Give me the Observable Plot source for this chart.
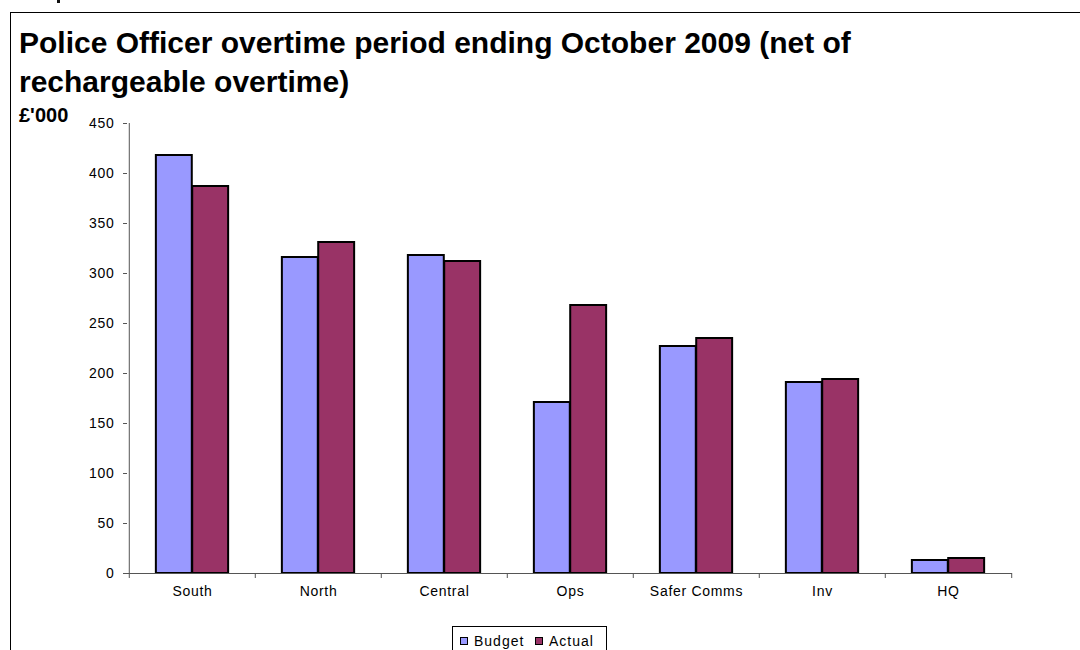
<!DOCTYPE html>
<html>
<head>
<meta charset="utf-8">
<script src="https://cdn.jsdelivr.net/npm/d3@7"></script>
<script src="https://cdn.jsdelivr.net/npm/@observablehq/plot@0.6"></script>
<style>
  html, body { margin: 0; padding: 0; background: #fff; overflow: hidden; }
  #wrap { position: relative; width: 1080px; height: 650px; font-family: "Liberation Sans", Arial, sans-serif; }
  #wrap svg { position: absolute; left: 0; top: 0; }
  #wrap svg text { letter-spacing: 0.7px; }
  .frame { position: absolute; left: 10px; top: 12px; width: 1200px; height: 800px; border-top: 1px solid #000; border-left: 1px solid #000; box-sizing: border-box; }
  .speck { position: absolute; left: 57px; top: 0; width: 3px; height: 3px; background: #111; }
  .title { position: absolute; left: 19px; top: 23.4px; font-weight: bold; font-size: 30px; line-height: 39px; color: #000; white-space: nowrap; }
  .unit { position: absolute; left: 19px; top: 104.8px; font-weight: bold; font-size: 20px; line-height: 20px; color: #000; }
  .legend { position: absolute; left: 452px; top: 626px; width: 155px; height: 30px; border: 1px solid #000; box-sizing: border-box; font-size: 14px; }
  .legend .item { position: absolute; top: 6px; display: flex; align-items: center; gap: 6px; line-height: 16px; letter-spacing: 1px; }
  .legend .sw { width: 6px; height: 6px; border: 1px solid #000; }
</style>
</head>
<body>
<div id="wrap"></div>
<script>
// Police Officer overtime by area, £'000
const categories = ["South", "North", "Central", "Ops", "Safer Comms", "Inv", "HQ"];
const budget = [418, 316, 318, 171, 227, 191, 13];
const actual = [387, 331, 312, 268, 235, 194, 15];
const seriesNames = ["Budget", "Actual"];
const seriesColors = ["#9999ff", "#993366"];
const yTicks = [0, 50, 100, 150, 200, 250, 300, 350, 400, 450];

const rows = categories.flatMap((c, i) => [
  {area: c, series: "Budget", value: budget[i]},
  {area: c, series: "Actual", value: actual[i]}
]);

const width = 1080, height = 650;
const marginLeft = 127, marginRight = 68, marginTop = 123, marginBottom = 77;
const step = (width - marginLeft - marginRight) / categories.length;
const group = step * 0.575;            // width of a pair of bars
const outer = (step - group) / 2;      // gap between the band edge and the pair
const half = step / 2;

const axisGrey = "#555";

const chart = Plot.plot({
  width, height, marginLeft, marginRight, marginTop, marginBottom,
  style: {fontFamily: "Liberation Sans, Arial, sans-serif", fontSize: "14px", background: "transparent", color: "#000"},
  x: {domain: categories, padding: 0, label: null},
  y: {domain: [0, 450], label: null},
  color: {domain: seriesNames, range: seriesColors},
  marks: [
    // Budget bars sit in the left half of each pair, Actual in the right half
    Plot.barY(rows.filter(d => d.series === "Budget"), {
      x: "area", y: "value", fill: "series", stroke: "#000", strokeWidth: 2,
      insetLeft: outer, insetRight: half
    }),
    Plot.barY(rows.filter(d => d.series === "Actual"), {
      x: "area", y: "value", fill: "series", stroke: "#000", strokeWidth: 2,
      insetLeft: half, insetRight: outer
    }),
    // value axis
    Plot.ruleX([categories[0]], {dx: -half, y1: 0, y2: 450, stroke: axisGrey}),
    Plot.axisY({ticks: yTicks, tickSize: 4, tickPadding: 9, fontSize: 14, stroke: axisGrey, fill: "#000", label: null}),
    // category axis with tick marks on the band boundaries
    Plot.ruleY([0], {stroke: axisGrey}),
    Plot.ruleX(categories, {dx: -half, y1: 0, y2: 0, insetTop: 5, stroke: axisGrey}),
    Plot.ruleX([categories[categories.length - 1]], {dx: half, y1: 0, y2: 0, insetTop: 5, stroke: axisGrey}),
    Plot.axisX({tickSize: 0, tickPadding: 13, fontSize: 14, fill: "#000", label: null})
  ]
});

const wrap = document.getElementById("wrap");
wrap.appendChild(chart);

const frame = document.createElement("div");
frame.className = "frame";
wrap.appendChild(frame);

const speck = document.createElement("div");
speck.className = "speck";
wrap.appendChild(speck);

const title = document.createElement("div");
title.className = "title";
title.innerHTML = "Police Officer overtime period ending October 2009 (net of<br>rechargeable overtime)";
wrap.appendChild(title);

const unit = document.createElement("div");
unit.className = "unit";
unit.textContent = "£'000";
wrap.appendChild(unit);

const legend = document.createElement("div");
legend.className = "legend";
const legendLeft = [7, 82];
seriesNames.forEach((name, i) => {
  const item = document.createElement("div");
  item.className = "item";
  item.style.left = legendLeft[i] + "px";
  const sw = document.createElement("span");
  sw.className = "sw";
  sw.style.background = seriesColors[i];
  const label = document.createElement("span");
  label.textContent = name;
  item.appendChild(sw);
  item.appendChild(label);
  legend.appendChild(item);
});
wrap.appendChild(legend);
</script>
</body>
</html>
